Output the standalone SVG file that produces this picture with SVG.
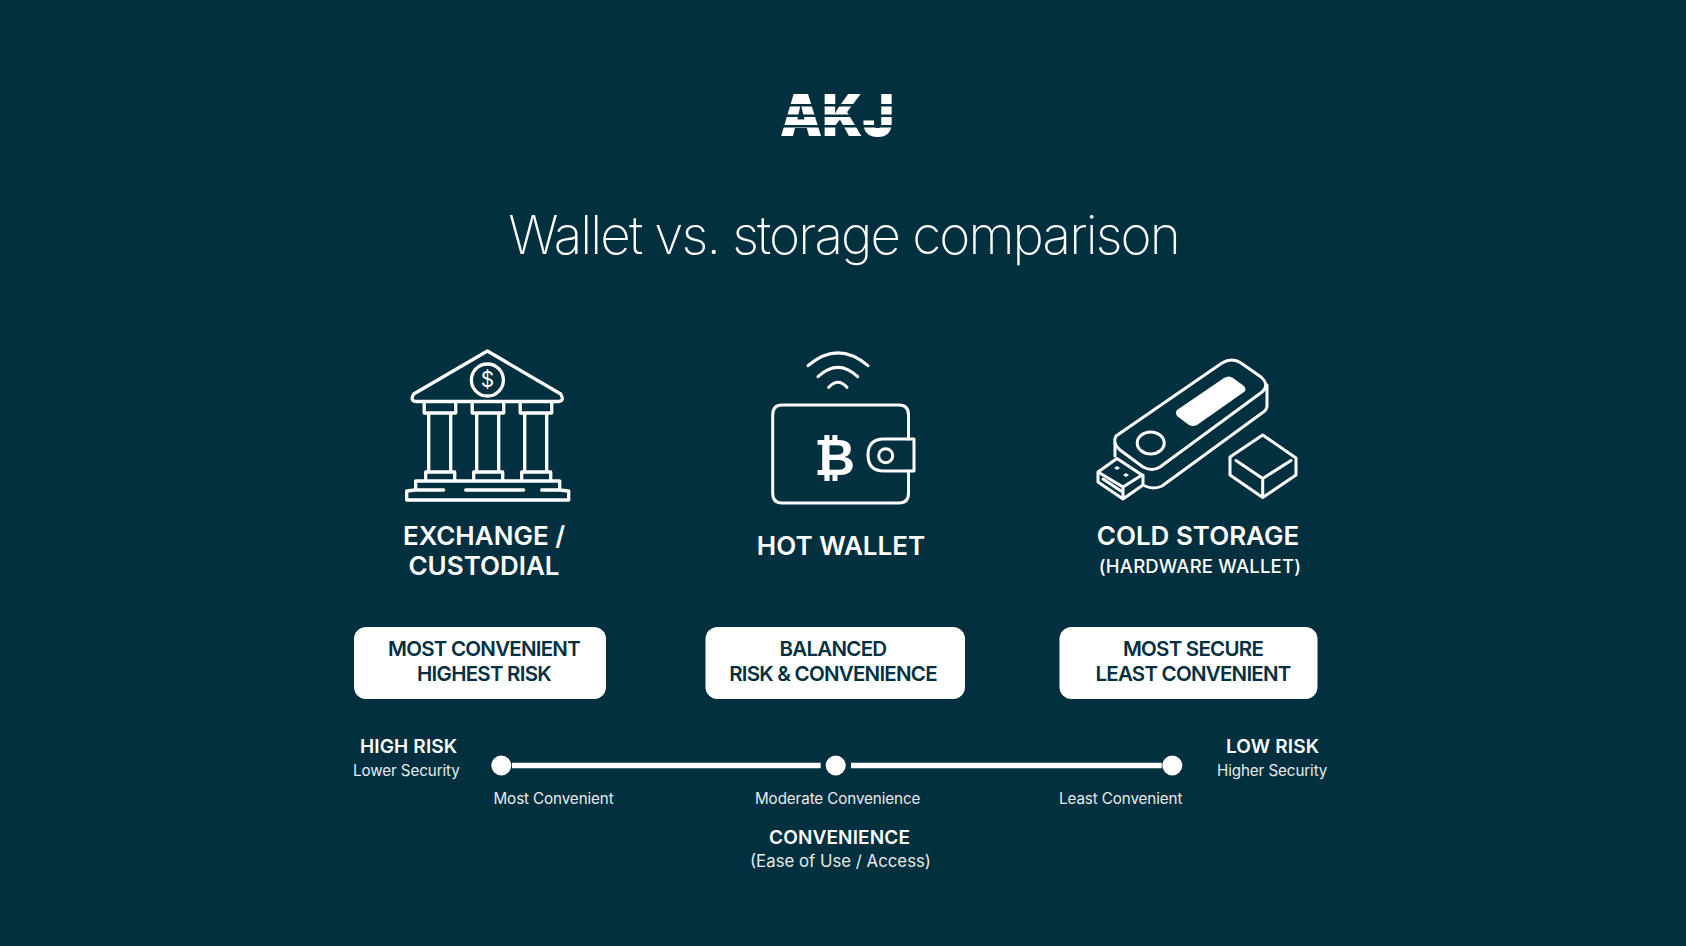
<svg xmlns="http://www.w3.org/2000/svg" width="1686" height="946" viewBox="0 0 1686 946">
<style>
text{font-family:Inter,"Liberation Sans",sans-serif;fill:#fff}
.ic{fill:none;stroke:#fff;stroke-width:3;stroke-linejoin:round;stroke-linecap:round}
.t{font-size:26px;font-weight:600;text-anchor:middle}
.p{font-size:20.5px;font-weight:600;text-anchor:middle;fill:#04303f;letter-spacing:-.75px}
.b{font-size:19px;font-weight:600;letter-spacing:.15px}
.s{font-size:15.2px;font-weight:400;fill:#e6ebed;letter-spacing:-.1px}
.pill{fill:#fff}
</style>
<rect width="1686" height="946" fill="#03303f"/>
<g id="logo">
<text x="780" y="136" font-size="58" font-weight="900" textLength="114" lengthAdjust="spacingAndGlyphs">AKJ</text>
<rect x="775" y="104" width="125" height="2.5" fill="#03303f"/>
<rect x="775" y="114.5" width="125" height="2.5" fill="#03303f"/>
<rect x="775" y="125" width="125" height="2.5" fill="#03303f"/>
</g>
<text id="title" x="843.5" y="253.5" font-size="53" font-weight="200" letter-spacing="-1.9" text-anchor="middle">Wallet vs. storage comparison</text>
<g id="exchange">
<g transform="translate(.7 0)" style="stroke-width:3.3">
<path class="ic" style="stroke-width:3.3" d="M486.7 351 L560 394 Q564 401 558 401.5 L415 401.5 Q409 401 413 394 Z"/>
<circle class="ic" style="stroke-width:3.3" cx="486.7" cy="380" r="16"/>
<text x="486.7" y="387" font-size="21" font-weight="400" text-anchor="middle">$</text>
<path class="ic" style="stroke-width:3.3" d="M423.5 403V413H455V403M428 413V472M450 413V472M425 480V472H454V480"/>
<path class="ic" style="stroke-width:3.3" d="M471.5 403V413H503V403M476 413V472M498 413V472M473 480V472H502V480"/>
<path class="ic" style="stroke-width:3.3" d="M519.5 403V413H551V403M524 413V472M546 413V472M521 480V472H550V480"/>
<path class="ic" style="stroke-width:3.3" d="M415 490V481H559V490M443 490H415L406 491V500H568V491L559 490H541M523 490H505M516 490H465"/>
</g>
<text class="t" x="484" y="545">EXCHANGE /</text>
<text class="t" x="484" y="575">CUSTODIAL</text>
</g>
<g id="hot-wallet">
<path class="ic" d="M808 365.7Q838 340 868 365.7M818 376.7Q838 358 857.7 376.7M828.7 387.3Q838 377 847 387.3"/>
<path class="ic" d="M908.5 439V415Q908.5 405 899 405H782Q772.7 405 772.7 415V493Q772.7 503 782 503H899Q908.5 503 908.5 493V471"/>
<path class="ic" d="M914 439H884Q868 439 868 455T884 471H914Z"/>
<circle class="ic" cx="885.7" cy="455.7" r="7"/>
<text x="834.5" y="474.5" font-size="50" font-weight="600" font-family="DejaVu Sans" text-anchor="middle" style="font-family:'DejaVu Sans',sans-serif">₿</text>
<text class="t" x="841" y="555">HOT WALLET</text>
</g>
<g id="cold-storage">
<path class="ic" d="M1116 436L1222 363Q1232 357 1241 363L1261 377Q1270 385 1262 392L1160 467Q1152 472 1143 467L1120 450Q1112 443 1116 436Z"/>
<path class="ic" d="M1115 443V456M1267 385V406Q1267 410 1262 413L1162 486Q1154 490 1145 486"/>
<path d="M1177 410L1224 378Q1229 375 1233 378L1244 386Q1247 390 1244 392L1197 425Q1193 427 1189 425L1177 416Q1175 412 1177 410Z" fill="#fff"/>
<ellipse class="ic" cx="1150.7" cy="443" rx="13.5" ry="11"/>
<path class="ic" d="M1098 472L1117 458.5L1142 475L1123 487ZM1098 472V482L1123 499L1143 485V475M1123 487V499M1103 479L1121 491"/>
<path d="M1114 468l3-2 3 2-3 2zM1123 475l3-2 3 2-3 2z" fill="#fff"/>
<path class="ic" d="M1262.7 435L1296 458V475L1262.7 497.5L1230 475V457ZM1236 460.5L1262.7 478.5L1291 460.5M1262.7 478.5V497.5"/>
<text class="t" x="1198" y="545">COLD STORAGE</text>
<text x="1200" y="573" font-size="18.5" font-weight="500" letter-spacing=".2" text-anchor="middle">(HARDWARE WALLET)</text>
</g>
<g id="pill-1"><rect class="pill" x="354" y="627" width="252" height="72" rx="12"/><text class="p" x="484" y="656">MOST CONVENIENT</text><text class="p" x="484" y="681">HIGHEST RISK</text></g>
<g id="pill-2"><rect class="pill" x="705.5" y="627" width="259.5" height="72" rx="12"/><text class="p" x="833" y="656">BALANCED</text><text class="p" x="833" y="681">RISK &amp; CONVENIENCE</text></g>
<g id="pill-3"><rect class="pill" x="1059.5" y="627" width="258" height="72" rx="12"/><text class="p" x="1193" y="656">MOST SECURE</text><text class="p" x="1193" y="681">LEAST CONVENIENT</text></g>
<g id="connectors" stroke="#fff" stroke-width="5.7">
<line x1="512" y1="765.5" x2="820.7" y2="765.5"/>
<line x1="851" y1="765.5" x2="1161.7" y2="765.5"/>
</g>
<g id="scale-1"><circle cx="501.3" cy="765.5" r="10" fill="#fff"/><text class="s" x="493.5" y="804">Most Convenient</text></g>
<g id="scale-2"><circle cx="835.7" cy="765.5" r="10" fill="#fff"/><text class="s" x="755" y="804">Moderate Convenience</text></g>
<g id="scale-3"><circle cx="1172.3" cy="765.5" r="10" fill="#fff"/><text class="s" x="1059" y="804">Least Convenient</text></g>
<g id="high-risk"><text class="b" x="360" y="753">HIGH RISK</text><text class="s" x="353" y="776">Lower Security</text></g>
<g id="low-risk"><text class="b" x="1226" y="753">LOW RISK</text><text class="s" x="1217" y="776">Higher Security</text></g>
<g id="convenience"><text class="b" x="769" y="843.5">CONVENIENCE</text><text x="750" y="867" font-size="16.8" style="fill:#e6ebed">(Ease of Use / Access)</text></g>
</svg>
